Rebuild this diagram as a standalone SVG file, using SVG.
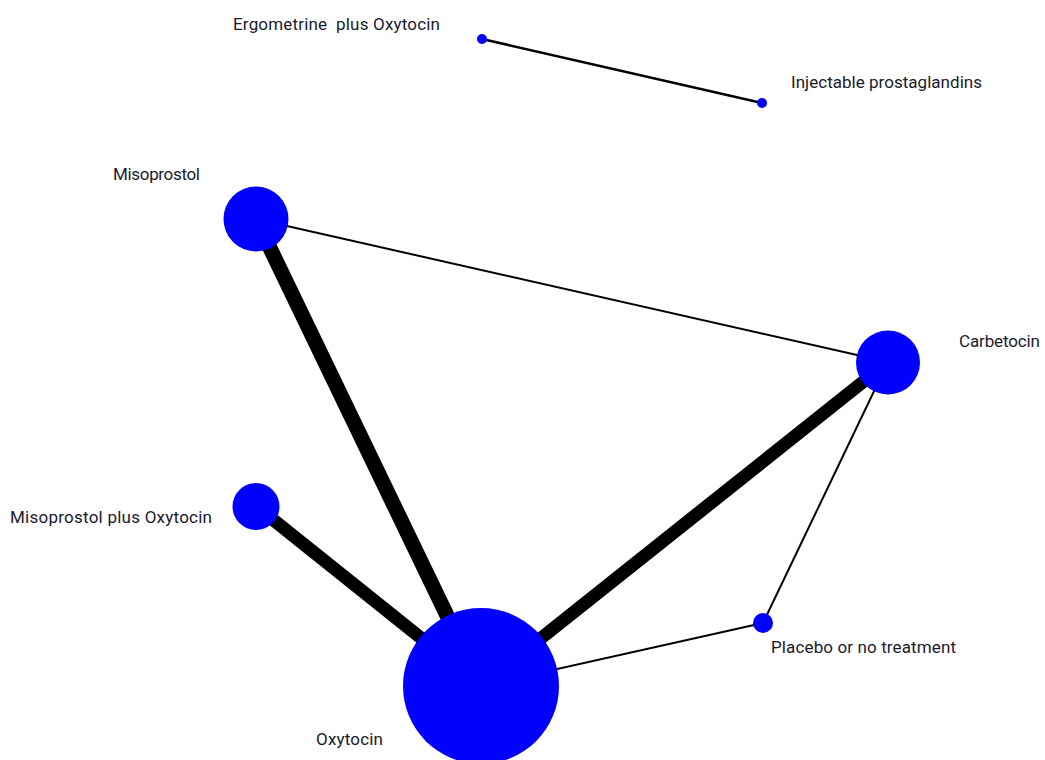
<svg xmlns="http://www.w3.org/2000/svg" width="1045" height="760" viewBox="0 0 1045 760">
  <style>
    .edge { stroke: #000; fill: none; stroke-linecap: butt; }
    .node { fill: #0000ff; }
    .label { font-family: Roboto, "Liberation Sans", sans-serif; font-size: 17px; fill: #1a1a2e; white-space: pre; }
  </style>
  <rect width="1045" height="760" fill="#fff"/>
  <g id="connectors">
    <line class="edge" x1="482" y1="39" x2="762" y2="103" stroke-width="2.5"/>
    <line class="edge" x1="256" y1="219" x2="888" y2="362" stroke-width="2"/>
    <line class="edge" x1="256" y1="219" x2="481" y2="686" stroke-width="15"/>
    <line class="edge" x1="888" y1="362" x2="481" y2="686" stroke-width="13"/>
    <line class="edge" x1="256" y1="506" x2="481" y2="686" stroke-width="13"/>
    <line class="edge" x1="888" y1="362" x2="763" y2="623" stroke-width="2"/>
    <line class="edge" x1="481" y1="686" x2="763" y2="623" stroke-width="2"/>
  </g>
  <g id="node-ergometrine-oxytocin">
    <circle class="node" cx="482" cy="39" r="5"/>
    <text class="label" x="233" y="30" xml:space="preserve" textLength="207" lengthAdjust="spacing">Ergometrine  plus Oxytocin</text>
  </g>
  <g id="node-injectable-prostaglandins">
    <circle class="node" cx="762" cy="103" r="5"/>
    <text class="label" x="791" y="88" textLength="191" lengthAdjust="spacing">Injectable prostaglandins</text>
  </g>
  <g id="node-misoprostol">
    <circle class="node" cx="256" cy="219" r="32.5"/>
    <text class="label" x="113" y="180" textLength="87" lengthAdjust="spacing">Misoprostol</text>
  </g>
  <g id="node-carbetocin">
    <circle class="node" cx="888" cy="362.5" r="32"/>
    <text class="label" x="959" y="347" textLength="81" lengthAdjust="spacing">Carbetocin</text>
  </g>
  <g id="node-misoprostol-oxytocin">
    <circle class="node" cx="256" cy="506.5" r="23.5"/>
    <text class="label" x="10" y="523" textLength="202" lengthAdjust="spacing">Misoprostol plus Oxytocin</text>
  </g>
  <g id="node-placebo">
    <circle class="node" cx="763" cy="623" r="10"/>
    <text class="label" x="771" y="653" textLength="185" lengthAdjust="spacing">Placebo or no treatment</text>
  </g>
  <g id="node-oxytocin">
    <circle class="node" cx="481" cy="686" r="78"/>
    <text class="label" x="316" y="745" textLength="67" lengthAdjust="spacing">Oxytocin</text>
  </g>
</svg>
